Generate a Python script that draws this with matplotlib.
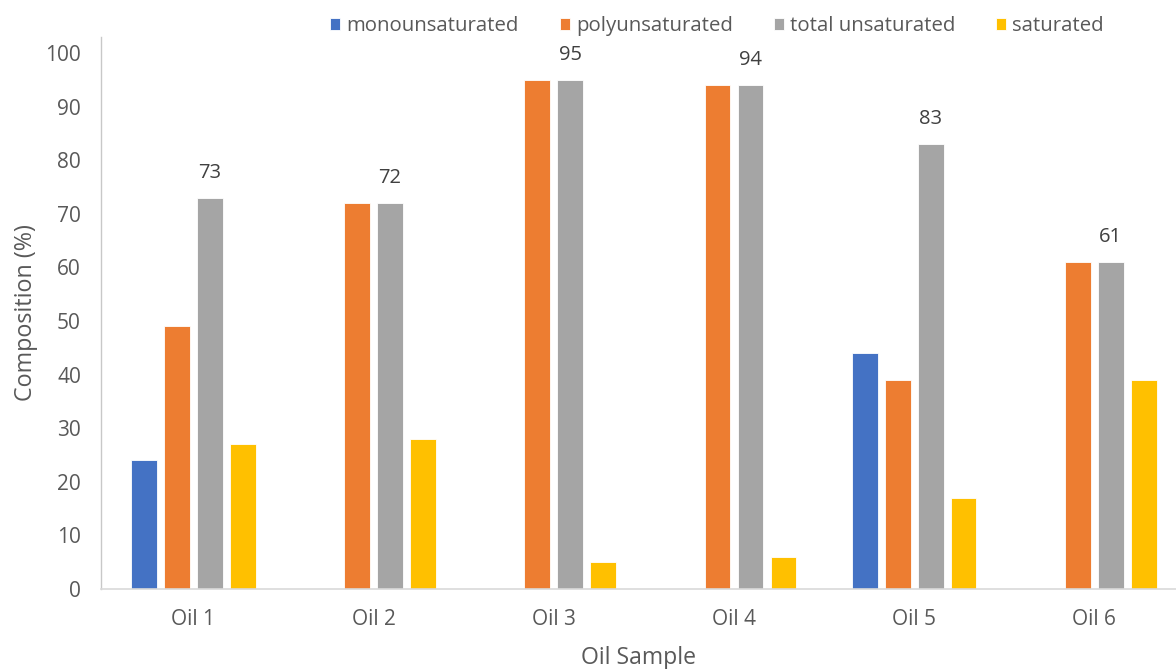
import matplotlib
matplotlib.use("Agg")
import matplotlib.pyplot as plt
import numpy as np

# Fatty-acid composition of six oil samples (%)
samples = ["Oil 1", "Oil 2", "Oil 3", "Oil 4", "Oil 5", "Oil 6"]
monounsaturated = [24, 0, 0, 0, 44, 0]
polyunsaturated = [49, 72, 95, 94, 39, 61]
total_unsaturated = [73, 72, 95, 94, 83, 61]
saturated = [27, 28, 5, 6, 17, 39]

series_names = ["monounsaturated", "polyunsaturated", "total unsaturated", "saturated"]
series_values = [monounsaturated, polyunsaturated, total_unsaturated, saturated]
series_colors = ["#4472C4", "#ED7D31", "#A5A5A5", "#FFC000"]

plt.rcParams["font.family"] = ["Open Sans", "DejaVu Sans"]
text_color = "#595959"

fig = plt.figure(figsize=(11.76, 6.69), dpi=100)
ax = fig.add_axes([101 / 1176, 80 / 669, 1075 / 1176, 552 / 669])

x = np.arange(len(samples))
width = 0.143
pitch = 0.183
offsets = (np.arange(4) - 1.5) * pitch

handles = []
for name, vals, col, off in zip(series_names, series_values, series_colors, offsets):
    h = ax.bar(x + off, vals, width=width, color=col, edgecolor="white",
               linewidth=0.6, label=name, zorder=2)
    handles.append(h)

# Value labels above the total unsaturated bars
for xi, v in zip(x + offsets[2], total_unsaturated):
    ax.annotate(f"{v}", (xi, v), xytext=(0, 18), textcoords="offset points",
                ha="center", va="center", fontsize=14.5, color="#404040")

ax.set_xlim(-0.512, 5.453)
ax.set_ylim(0, 103)
ax.set_yticks(np.arange(0, 101, 10))
ax.set_xticks(x)
ax.set_xticklabels(samples)
ax.tick_params(axis="both", length=0, labelsize=15, colors=text_color)
ax.tick_params(axis="y", pad=14.4)
ax.tick_params(axis="x", pad=14.5)

for side in ["top", "right"]:
    ax.spines[side].set_visible(False)
ax.spines["bottom"].set_color("#d9d9d9")
ax.spines["bottom"].set_linewidth(1.2)
ax.spines["left"].set_color("#c8c8c8")
ax.spines["left"].set_linewidth(1.0)

ax.set_xlabel("Oil Sample", fontsize=16.6, color=text_color, labelpad=11.5)
ax.set_ylabel("Composition (%)", fontsize=16.8, color=text_color, labelpad=5)

leg = fig.legend(handles=handles, labels=series_names, loc="center",
                 bbox_to_anchor=(717 / 1176, 1 - 26 / 669), ncol=4, frameon=False,
                 fontsize=14.7, handlelength=0.5, handleheight=0.55,
                 handletextpad=0.3, columnspacing=2.0)
for t in leg.get_texts():
    t.set_color(text_color)

fig.savefig("out.png", dpi=100)
